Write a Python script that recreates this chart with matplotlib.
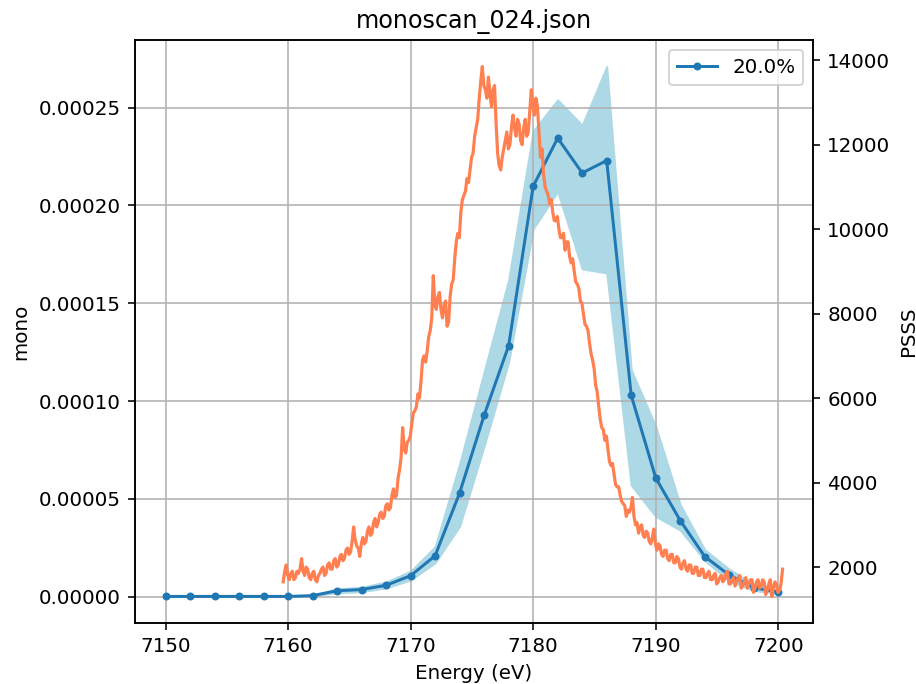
import numpy as np
import matplotlib
matplotlib.use("Agg")
import matplotlib.pyplot as plt

# mono scan: mean signal and spread band, one point every 2 eV
energy = [7150, 7152, 7154, 7156, 7158, 7160, 7162, 7164, 7166, 7168, 7170, 7172, 7174,
          7176, 7178, 7180, 7182, 7184, 7186, 7188, 7190, 7192, 7194, 7196, 7198, 7200]
mono = [1e-7, 1e-7, 1e-7, 1e-7, 1e-7, 1e-7, 5e-7, 3.0e-6, 3.6e-6, 5.8e-6, 1.07e-5, 2.09e-5,
        5.3e-5, 9.27e-5, 1.283e-4, 2.098e-4, 2.344e-4, 2.166e-4, 2.229e-4, 1.029e-4,
        6.07e-5, 3.89e-5, 2.05e-5, 1.1e-5, 4.6e-6, 2.2e-6]
mono_lo = [0, 0, 0, 0, 0, 0, 3e-7, 2.0e-6, 2.5e-6, 4.5e-6, 8.5e-6, 1.73e-5,
           3.6e-5, 7.7e-5, 1.20e-4, 1.88e-4, 2.07e-4, 1.675e-4, 1.655e-4, 5.7e-5,
           4.1e-5, 3.4e-5, 1.85e-5, 8.0e-6, 3.2e-6, 1.5e-6]
mono_hi = [2e-7, 2e-7, 2e-7, 2e-7, 2e-7, 2e-7, 8e-7, 4.0e-6, 4.8e-6, 7.5e-6, 1.3e-5, 2.55e-5,
           6.8e-5, 1.15e-4, 1.62e-4, 2.38e-4, 2.54e-4, 2.41e-4, 2.71e-4, 1.16e-4,
           8.7e-5, 4.7e-5, 2.4e-5, 1.4e-5, 6.5e-6, 3.0e-6]

# PSSS spectrum, read every 0.125 eV from 7159.6 eV
psss = [
    1650, 1900, 2050, 1800, 1700, 1850, 1900, 1700, 1750, 1900,
    1850, 1950, 2200, 1900, 1800, 2000, 1950, 1750, 1700, 1850,
    1900, 1700, 1650, 1800, 1850, 1950, 2000, 1800, 1850, 2050,
    2100, 1950, 1950, 2150, 2200, 2000, 2050, 2250, 2300, 2150,
    2200, 2400, 2450, 2300, 2350, 2600, 2950, 2650, 2500, 2450,
    2250, 2550, 2700, 2550, 2600, 2850, 2950, 2750, 2800, 3050,
    3150, 2950, 3050, 3250, 3300, 3150, 3200, 3450, 3500, 3350,
    3400, 3700, 3850, 3650, 3700, 4100, 4300, 4600, 5300, 4800,
    4700, 4950, 5000, 5100, 5400, 5650, 5700, 5800, 6100, 6000,
    6400, 6900, 7000, 6850, 7100, 7450, 7600, 7900, 8900, 8200,
    8100, 8400, 8500, 8100, 7900, 8200, 8300, 7700, 7800, 8400,
    8700, 8800, 9300, 9700, 9900, 9800, 10400, 10700, 10800, 10900,
    11200, 11100, 11400, 11700, 11800, 12200, 12400, 12600, 13100, 13500,
    13850, 13400, 13300, 13100, 13600, 13200, 12900, 13300, 13400, 12500,
    11800, 11500, 11400, 11700, 11900, 12100, 12300, 11900, 12000, 12400,
    12700, 12400, 12200, 12600, 12500, 12100, 12000, 12400, 12600, 12200,
    12300, 12800, 13300, 12900, 12700, 13100, 12900, 12300, 11700, 11900,
    11300, 11000, 10900, 10800, 10600, 10700, 10400, 10200, 10200, 10300,
    10000, 9800, 9800, 9900, 9500, 9700, 9700, 9350, 9200, 9300,
    9000, 8750, 8700, 8600, 8300, 8250, 8000, 7750, 7700, 7600,
    7300, 7050, 6900, 6700, 6300, 6150, 5800, 5500, 5300, 5250,
    5000, 5100, 4800, 4500, 4400, 4450, 4200, 3950, 3900, 3900,
    3700, 3550, 3500, 3450, 3200, 3350, 3300, 3400, 3650, 3200,
    3000, 3050, 2800, 2950, 3000, 2750, 2700, 2850, 2800, 2600,
    2550, 2700, 2900, 2550, 2400, 2550, 2500, 2300, 2250, 2400,
    2400, 2200, 2150, 2300, 2300, 2100, 2100, 2250, 2200, 2000,
    1950, 2100, 2150, 1950, 1900, 2050, 2050, 1850, 1850, 2000,
    2000, 1800, 1800, 1950, 1950, 1750, 1750, 1850, 1900, 1700,
    1700, 1800, 1850, 1600, 1650, 1750, 1800, 1650, 1700, 1850,
    1900, 1600, 1600, 1700, 1750, 1550, 1650, 1750, 1800, 1500,
    1550, 1650, 1750, 1500, 1600, 1700, 1700, 1400, 1500, 1650,
    1700, 1500, 1550, 1700, 1650, 1350, 1450, 1600, 1700, 1300,
    1500, 1650, 1600, 1400, 1450, 1600, 1950,
]
psss_energy = np.linspace(7159.6, 7200.35, len(psss))

fig, ax = plt.subplots(figsize=(916 / 143, 684 / 143), dpi=143)
fig.subplots_adjust(left=0.147, right=0.888, top=0.9415, bottom=0.089)

ax.fill_between(energy, mono_lo, mono_hi, color="lightblue")
ax.plot(energy, mono, ".-", color="C0", label="20.0%")
ax.set_xlabel("Energy (eV)")
ax.set_ylabel("mono")
ax.set_title("monoscan_024.json")
ax.grid(True)
ax.legend(loc="upper right")

ax2 = ax.twinx()
ax2.plot(psss_energy, psss, color="coral", lw=1.6)
ax2.set_ylabel("PSSS")

fig.savefig("out.png", dpi=143)
